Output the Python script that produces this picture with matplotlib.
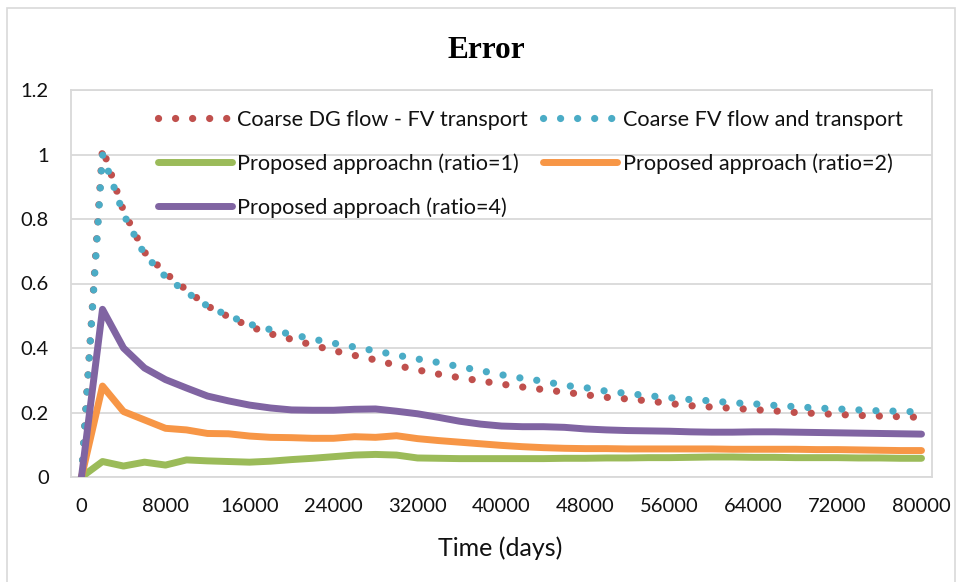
import matplotlib
matplotlib.use('Agg')
import matplotlib.pyplot as plt
from matplotlib.patches import Rectangle
from matplotlib.lines import Line2D

# ---------------- data ----------------
days = list(range(0, 80001, 2000))

coarse_dg = [0, 1.02, 0.825, 0.697, 0.632, 0.580, 0.530, 0.497, 0.467, 0.444,
             0.427, 0.409, 0.392, 0.377, 0.363, 0.346, 0.332, 0.319, 0.308, 0.298,
             0.288, 0.279, 0.271, 0.263, 0.255, 0.247, 0.242, 0.236, 0.228, 0.221,
             0.217, 0.213, 0.209, 0.205, 0.200, 0.197, 0.194, 0.191, 0.189, 0.187,
             0.185]

coarse_fv = [0, 1.00, 0.815, 0.690, 0.621, 0.573, 0.530, 0.500, 0.474, 0.457,
             0.442, 0.428, 0.415, 0.403, 0.391, 0.378, 0.366, 0.355, 0.342, 0.330,
             0.317, 0.306, 0.297, 0.284, 0.277, 0.266, 0.259, 0.252, 0.246, 0.240,
             0.236, 0.230, 0.227, 0.222, 0.218, 0.214, 0.211, 0.208, 0.205, 0.204,
             0.201]

ratio1 = [0, 0.048, 0.034, 0.046, 0.037, 0.053, 0.050, 0.048, 0.046, 0.049,
          0.054, 0.058, 0.063, 0.068, 0.070, 0.068, 0.059, 0.058, 0.057, 0.057,
          0.057, 0.057, 0.057, 0.058, 0.058, 0.059, 0.059, 0.060, 0.060, 0.061,
          0.062, 0.062, 0.061, 0.061, 0.060, 0.060, 0.060, 0.059, 0.059, 0.058,
          0.058]

ratio2 = [0, 0.282, 0.203, 0.177, 0.151, 0.146, 0.135, 0.134, 0.127, 0.123,
          0.122, 0.120, 0.120, 0.125, 0.123, 0.128, 0.119, 0.113, 0.108, 0.103,
          0.098, 0.094, 0.091, 0.089, 0.088, 0.088, 0.087, 0.087, 0.087, 0.087,
          0.087, 0.086, 0.086, 0.086, 0.086, 0.085, 0.085, 0.084, 0.083, 0.082,
          0.082]

ratio4 = [0, 0.520, 0.400, 0.338, 0.302, 0.276, 0.251, 0.236, 0.223, 0.214,
          0.208, 0.207, 0.207, 0.210, 0.211, 0.204, 0.196, 0.185, 0.173, 0.164,
          0.158, 0.156, 0.156, 0.154, 0.149, 0.146, 0.144, 0.143, 0.142, 0.140,
          0.139, 0.139, 0.140, 0.140, 0.139, 0.138, 0.137, 0.136, 0.135, 0.134,
          0.133]

series_labels = ['Coarse DG flow - FV transport', 'Coarse FV flow and transport',
                 'Proposed approachn (ratio=1)', 'Proposed approach (ratio=2)',
                 'Proposed approach (ratio=4)']

x_ticks = [0, 8000, 16000, 24000, 32000, 40000, 48000, 56000, 64000, 72000, 80000]
y_ticks = [0, 0.2, 0.4, 0.6, 0.8, 1.0, 1.2]
y_tick_labels = ['0', '0.2', '0.4', '0.6', '0.8', '1', '1.2']

title = 'Error'
x_title = 'Time (days)'

# ---------------- style ----------------
C_RED = '#C0504D'
C_BLUE = '#4BACC6'
C_GREEN = '#9BBB59'
C_ORANGE = '#F79646'
C_PURPLE = '#8064A2'
GRID = '#d9d9d9'
FONT = 'Lato'
TXT = '#111111'

W, H = 960, 582
fig = plt.figure(figsize=(W / 100, H / 100), dpi=100)

# outer chart border
fig.patches.append(Rectangle((7 / W, -0.02), (955 - 7) / W, 1 - 8 / H + 0.02,
                             transform=fig.transFigure, fill=False,
                             edgecolor=GRID, lw=1.2))

L, R, T, B = 71, 932, 90, 477
ax = fig.add_axes([L / W, 1 - B / H, (R - L) / W, (B - T) / H])
ax.set_xlim(-1000, 81000)
ax.set_ylim(0, 1.2)

dot_style = dict(lw=5.2, linestyle=(0, (0.01, 2.35)), dash_capstyle='round')
solid_style = dict(lw=5.0, solid_capstyle='round', solid_joinstyle='round')

ax.plot(days, coarse_dg, color=C_RED, **dot_style, zorder=3)
ax.plot(days, coarse_fv, color=C_BLUE, **dot_style, zorder=4)
ax.plot(days, ratio1, color=C_GREEN, **solid_style, zorder=5)
ax.plot(days, ratio2, color=C_ORANGE, **solid_style, zorder=6)
ax.plot(days, ratio4, color=C_PURPLE, **solid_style, zorder=7)

ax.set_yticks(y_ticks)
ax.set_yticklabels(y_tick_labels)
ax.set_xticks(x_ticks)
ax.set_xticklabels([str(v) for v in x_ticks])
ax.tick_params(axis='both', length=0, labelsize=14.5, colors=TXT)
ax.tick_params(axis='y', pad=16)
ax.tick_params(axis='x', pad=15)
for lab in ax.get_xticklabels() + ax.get_yticklabels():
    lab.set_fontfamily(FONT)

ax.yaxis.grid(True, color=GRID, lw=1.3)
ax.set_axisbelow(True)
for sp in ax.spines.values():
    sp.set_color(GRID)
    sp.set_linewidth(1.3)

# legend (column-major fill: col1 = DG, ratio1, ratio4 ; col2 = FV, ratio2)
h_dg = Line2D([], [], color=C_RED, **dot_style)
h_fv = Line2D([], [], color=C_BLUE, **dot_style)
h_r1 = Line2D([], [], color=C_GREEN, **solid_style)
h_r2 = Line2D([], [], color=C_ORANGE, **solid_style)
h_r4 = Line2D([], [], color=C_PURPLE, **solid_style)
leg = ax.legend(handles=[h_dg, h_r1, h_r4, h_fv, h_r2],
                labels=[series_labels[0], series_labels[2], series_labels[4],
                        series_labels[1], series_labels[3]],
                ncol=2, loc='upper left',
                bbox_to_anchor=(158 / W, 1 - 110 / H), bbox_transform=fig.transFigure,
                frameon=False, borderpad=0, borderaxespad=0,
                handlelength=3.4, handletextpad=0.25, columnspacing=0.72,
                labelspacing=1.07, prop=dict(family=FONT, size=15.6))
for t in leg.get_texts():
    t.set_color(TXT)

fig.text(486 / W, 1 - 50 / H, title, ha='center', va='center',
         family='Liberation Serif', fontweight='bold', fontsize=22.5)
fig.text(500 / W, 1 - 548 / H, x_title, ha='center', va='center',
         family=FONT, fontsize=18, color=TXT)

fig.savefig('out.png', dpi=100)
